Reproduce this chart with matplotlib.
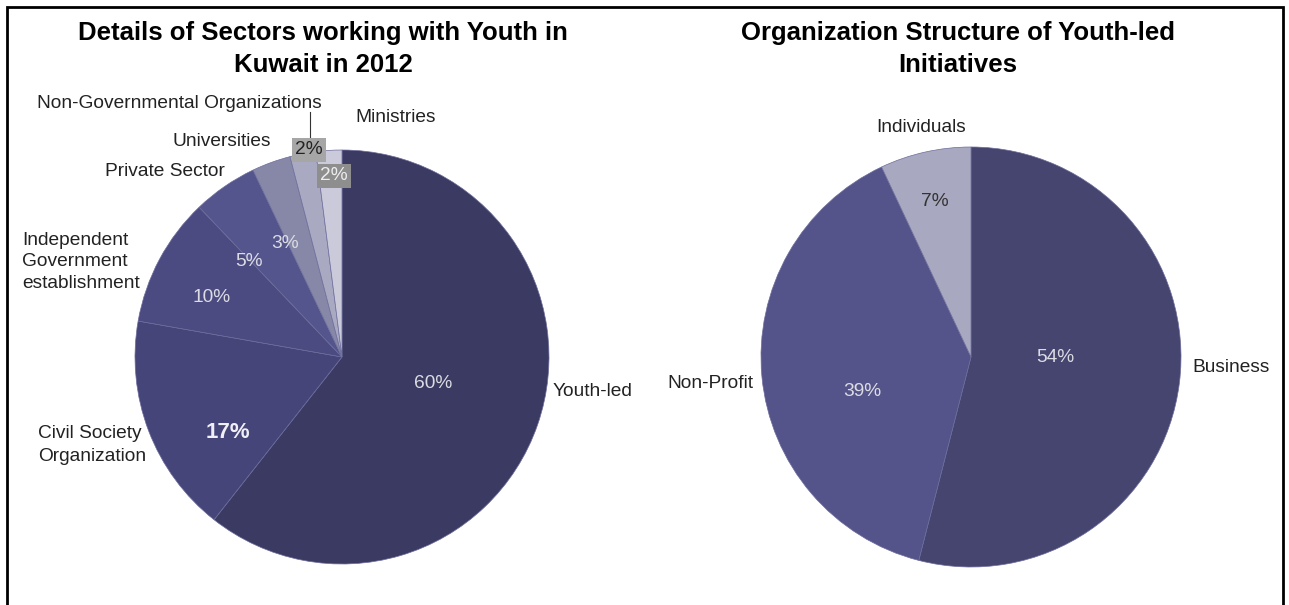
import matplotlib
matplotlib.use("Agg")
import matplotlib.pyplot as plt
from matplotlib.patches import Rectangle

# data
sectors = ["Youth-led", "Civil Society\nOrganization", "Independent\nGovernment\nestablishment",
           "Private Sector", "Universities", "Non-Governmental Organizations", "Ministries"]
sector_pct = [60, 17, 10, 5, 3, 2, 2]
sector_colors = ["#3a3a62", "#45457a", "#4b4b82", "#55558e", "#8787a8", "#a9a9c2", "#cacadb"]

structures = ["Business", "Non-Profit", "Individuals"]
structure_pct = [54, 39, 7]
structure_colors = ["#45456f", "#54548a", "#a8a8c0"]

W, H = 1289, 605
plt.rcParams["font.family"] = ["Liberation Sans", "DejaVu Sans"]

fig = plt.figure(figsize=(W / 100, H / 100), dpi=100)
ax = fig.add_axes([0, 0, 1, 1])


def py(y):  # pixel row -> data y
    return H - y


ax.pie(sector_pct, colors=sector_colors, startangle=90, counterclock=False,
       center=(342, py(357)), radius=207,
       wedgeprops=dict(linewidth=0.5, edgecolor="#6c6c9c"))
ax.pie(structure_pct, colors=structure_colors, startangle=90, counterclock=False,
       center=(971, py(357)), radius=210,
       wedgeprops=dict(linewidth=0.5, edgecolor="#6c6c9c"))
ax.set_xlim(0, W)
ax.set_ylim(0, H)
ax.set_aspect("equal")
ax.axis("off")

# frame round the whole picture (open at the bottom)
ax.add_patch(Rectangle((7, -20), 1276, py(7) + 20, fill=False, lw=2, color="black"))

# titles
ax.text(323, py(49), "Details of Sectors working with Youth in\nKuwait in 2012",
        ha="center", va="center", fontsize=18.5, fontweight="bold", linespacing=1.38)
ax.text(958, py(49), "Organization Structure of Youth-led\nInitiatives",
        ha="center", va="center", fontsize=18.5, fontweight="bold", linespacing=1.38)

fs = 13.8
lab = dict(fontsize=fs, color="#222222", va="center")
pct = dict(fontsize=fs, color="#dcdce4", ha="center", va="center")

# left pie category labels
ax.text(553, py(391), sectors[0], ha="left", **lab)
ax.text(38, py(445), sectors[1], ha="left", linespacing=1.45, **lab)
ax.text(22, py(262), sectors[2], ha="left", linespacing=1.38, **lab)
ax.text(105, py(172), sectors[3], ha="left", **lab)
ax.text(173, py(142), sectors[4], ha="left", **lab)
ax.text(37, py(103), sectors[5], ha="left", **lab)
ax.text(355, py(118), sectors[6], ha="left", **lab)
ax.plot([310, 310], [py(112), py(137)], color="#333333", lw=0.8)

# left pie values
vals = [f"{v}%" for v in sector_pct]
ax.text(433, py(384), vals[0], **pct)
ax.text(228, py(432), vals[1], fontsize=16, fontweight="bold", color="#f0f0f4",
        ha="center", va="center")
ax.text(212, py(298), vals[2], **pct)
ax.text(249, py(262), vals[3], **pct)
ax.text(285, py(243), vals[4], **pct)
ax.text(309, py(150), vals[5], fontsize=fs, color="#222222", ha="center", va="center",
        bbox=dict(boxstyle="square,pad=0.18", fc="#a6a6a6", ec="none"))
ax.text(334, py(176), vals[6], fontsize=fs, color="#eeeeee", ha="center", va="center",
        bbox=dict(boxstyle="square,pad=0.18", fc="#8e8e8e", ec="none"))

# right pie labels
ax.text(1192, py(367), structures[0], ha="left", **lab)
ax.text(753, py(383), structures[1], ha="right", **lab)
ax.text(921, py(128), structures[2], ha="center", **lab)
ax.text(1055, py(358), f"{structure_pct[0]}%", **pct)
ax.text(862, py(392), f"{structure_pct[1]}%", **pct)
ax.text(935, py(201), f"{structure_pct[2]}%", fontsize=fs, color="#333333",
        ha="center", va="center")

fig.savefig("out.png", dpi=100, facecolor="white")
